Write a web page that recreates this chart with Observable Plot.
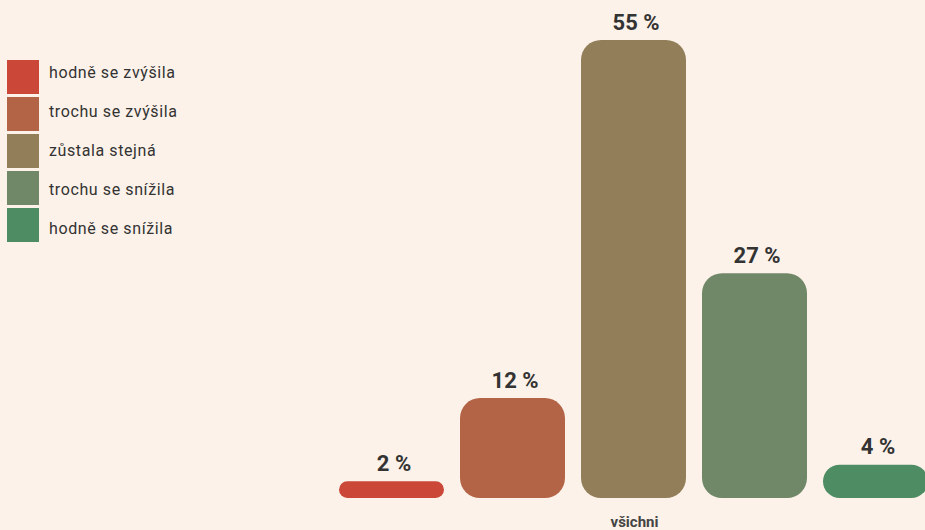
<!DOCTYPE html>
<html>
<head>
<meta charset="utf-8">
<script src="https://cdn.jsdelivr.net/npm/d3@7"></script>
<script src="https://cdn.jsdelivr.net/npm/@observablehq/plot@0.6"></script>
<style>
  html, body { margin: 0; padding: 0; background: #fcf2e9; }
  #wrap { position: relative; width: 925px; height: 530px; overflow: hidden; font-family: Roboto, "Noto Sans", sans-serif; }
  #legend { position: absolute; left: 0; top: 0; }
  .sw { position: absolute; left: 7px; width: 32px; height: 34px; }
  .lab { position: absolute; left: 49px; font-size: 16px; line-height: 20px; color: #333; letter-spacing: 0.6px; white-space: nowrap; }
</style>
</head>
<body>
<div id="wrap"><div id="legend"></div></div>
<script>
const group = "všichni";
const answers = ["hodně se zvýšila", "trochu se zvýšila", "zůstala stejná", "trochu se snížila", "hodně se snížila"];
const values = [2, 12, 55, 27, 4];
const colors = ["#cb4838", "#b46446", "#937e5a", "#708868", "#4e8c63"];

const data = answers.map((a, i) => ({group, answer: a, value: values[i]}));

const chart = Plot.plot({
  width: 925,
  height: 530,
  marginLeft: 331,
  marginRight: -12,
  marginTop: 40,
  marginBottom: 32,
  style: {background: "transparent", fontFamily: "Roboto, 'Noto Sans', sans-serif", overflow: "visible"},
  fx: {domain: [group], padding: 0, label: null},
  x: {domain: answers, paddingInner: 0.132, paddingOuter: 0.066, axis: null},
  y: {domain: [0, 55], axis: null},
  color: {domain: answers, range: colors},
  marks: [
    Plot.barY(data, {fx: "group", x: "answer", y: "value", fill: "answer", r: 20, rx: 20}),
    Plot.text(data, {fx: "group", x: "answer", y: "value", text: d => `${d.value} %`,
      lineAnchor: "bottom", dy: -11, dx: 2, fontSize: 22, fontWeight: "bold", fill: "#333"}),
    Plot.axisFx({anchor: "bottom", tickSize: 0, tickPadding: 18, label: null, fontSize: 15, fontWeight: "bold", fill: "#444"})
  ]
});
document.getElementById("wrap").prepend(chart);

const legend = d3.select("#legend");
answers.forEach((a, i) => {
  legend.append("div").attr("class", "sw").style("top", (60 + 37 * i) + "px").style("background", colors[i]);
  legend.append("div").attr("class", "lab").style("top", (63 + 39 * i) + "px").text(a);
});
</script>
</body>
</html>
